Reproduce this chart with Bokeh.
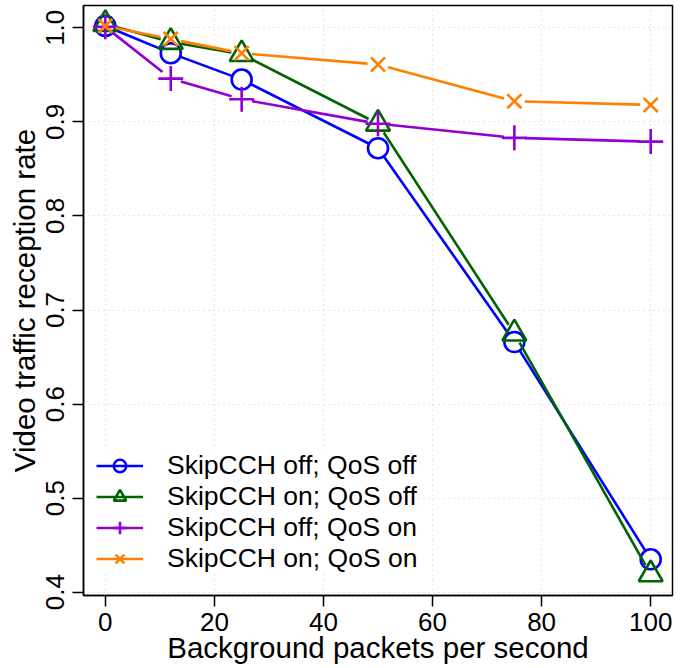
import math
from bokeh.plotting import figure
from bokeh.models import FixedTicker, Range1d, Legend
from bokeh.embed import file_html
from bokeh.resources import INLINE

# ---- data ----
x_vals = [0, 12, 25, 50, 75, 100]
skip_off_qos_off = [1.002, 0.973, 0.945, 0.872, 0.666, 0.435]
skip_on_qos_off = [1.004, 0.985, 0.972, 0.898, 0.675, 0.419]
skip_off_qos_on = [1.001, 0.946, 0.924, 0.898, 0.883, 0.879]
skip_on_qos_on = [1.002, 0.988, 0.973, 0.961, 0.922, 0.918]
series_labels = ["SkipCCH off; QoS off", "SkipCCH on; QoS off",
                 "SkipCCH off; QoS on", "SkipCCH on; QoS on"]
x_ticks = [0, 20, 40, 60, 80, 100]
y_ticks = [0.4, 0.5, 0.6, 0.7, 0.8, 0.9, 1.0]
y_tick_labels = ["0.4", "0.5", "0.6", "0.7", "0.8", "0.9", "1.0"]

FONT = "Liberation Sans"

W, H = 697, 668
BL, BR, BT, BB = 83, 25, 5, 73
X0, X1 = -4, 104
Y0, Y1 = 0.3965, 1.0237

p = figure(width=W, height=H, output_backend="svg", toolbar_location=None,
           x_range=Range1d(X0, X1), y_range=Range1d(Y0, Y1),
           min_border_left=BL, min_border_right=BR, min_border_top=BT,
           min_border_bottom=BB)

p.outline_line_color = "black"
p.outline_line_width = 1.5
p.background_fill_color = "white"

for ax in (p.xaxis[0], p.yaxis[0]):
    ax.axis_line_color = "black"
    ax.axis_line_width = 1.5
    ax.major_tick_line_color = "black"
    ax.major_tick_line_width = 1.5
    ax.major_tick_out = 11
    ax.major_tick_in = 0
    ax.minor_tick_line_color = None
    ax.major_label_text_font = FONT
    ax.major_label_text_font_size = "26px"
    ax.major_label_text_color = "black"
    ax.axis_label_text_font = FONT
    ax.axis_label_text_font_size = "29.5px"
    ax.axis_label_text_font_style = "normal"
    ax.axis_label_text_color = "black"
p.yaxis[0].major_label_standoff = 8
p.yaxis[0].axis_label_standoff = 3
p.xaxis[0].major_label_standoff = 6
p.xaxis[0].axis_label_standoff = -3

p.xaxis[0].ticker = FixedTicker(ticks=x_ticks)
p.yaxis[0].ticker = FixedTicker(ticks=y_ticks)
p.yaxis[0].major_label_overrides = {t: l for t, l in zip(y_ticks, y_tick_labels)}
p.yaxis[0].major_label_orientation = "parallel"
p.xaxis[0].axis_label = "Background packets per second"
p.yaxis[0].axis_label = "Video traffic reception rate"

for g in (p.xgrid[0], p.ygrid[0]):
    g.grid_line_color = "#cfcfcf"
    g.grid_line_dash = "1 4"
    g.grid_line_width = 1.2

# pixel scales of the frame, used to leave R-style gaps around the points
sx = (W - BL - BR) / (X1 - X0)
sy = (H - BT - BB) / (Y1 - Y0)
GAP = 10.5


def gapped(xs, ys):
    x0s, y0s, x1s, y1s = [], [], [], []
    for i in range(len(xs) - 1):
        dx = (xs[i + 1] - xs[i]) * sx
        dy = (ys[i + 1] - ys[i]) * sy
        L = math.hypot(dx, dy)
        if L <= 2 * GAP:
            continue
        fx, fy = dx / L * GAP / sx, dy / L * GAP / sy
        x0s.append(xs[i] + fx)
        y0s.append(ys[i] + fy)
        x1s.append(xs[i + 1] - fx)
        y1s.append(ys[i + 1] - fy)
    return x0s, y0s, x1s, y1s


styles = [
    (skip_off_qos_off, "#0000FF", "circle", 20),
    (skip_on_qos_off, "#006400", "triangle", 24),
    (skip_off_qos_on, "#9400D3", "cross", 25),
    (skip_on_qos_on, "#FF7F00", "x", 20),
]

items = []
for (ys, color, marker, size), lab in zip(styles, series_labels):
    a, b, c, d = gapped(x_vals, ys)
    r1 = p.segment(a, b, c, d, line_color=color, line_width=2.6)
    r2 = p.scatter(x_vals, ys, marker=marker, size=size, line_color=color,
                   fill_color=None, line_width=2.6)
    items.append((lab, [r1, r2]))

legend = Legend(items=items, location=(13, 21))
legend.label_text_font = FONT
legend.label_text_font_size = "26.5px"
legend.label_text_color = "black"
legend.glyph_width = 47
legend.glyph_height = 31
legend.label_height = 31
legend.label_standoff = 24
legend.spacing = 0
legend.padding = 0
legend.margin = 0
legend.border_line_color = None
legend.background_fill_color = "white"
legend.background_fill_alpha = 1.0
p.add_layout(legend, "center")

open("out.html", "w").write(file_html(p, INLINE))
